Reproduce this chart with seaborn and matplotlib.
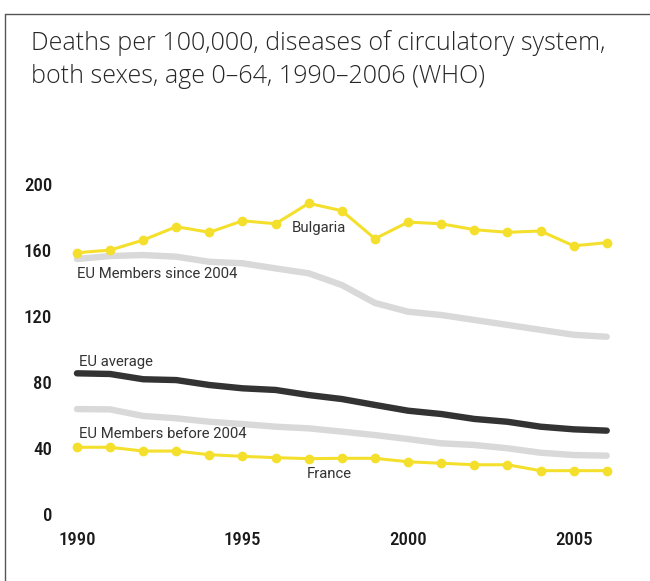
import numpy as np
import pandas as pd
import seaborn as sns
import matplotlib.pyplot as plt
from matplotlib.lines import Line2D

# values
years = list(range(1990, 2007))
bulgaria = [158.3, 159.9, 166.0, 174.1, 170.7, 177.7, 175.9, 188.3, 183.8,
            166.8, 176.9, 175.9, 172.3, 170.7, 171.5, 162.5, 164.4]
eu_since_2004 = [154.5, 156.3, 156.9, 155.9, 152.8, 151.9, 148.8, 145.8, 138.7,
                 127.8, 122.5, 120.5, 117.5, 114.5, 111.5, 108.5, 107.3]
eu_average = [85.1, 84.7, 81.5, 81.0, 78.0, 76.0, 75.0, 71.9, 69.5,
              65.9, 62.4, 60.4, 57.4, 55.7, 52.7, 51.1, 50.3]
eu_before_2004 = [63.4, 63.2, 59.2, 57.8, 55.7, 54.3, 52.7, 51.7, 49.7,
                  47.6, 45.2, 42.6, 41.6, 39.6, 36.9, 35.5, 35.1]
france = [40.2, 40.2, 37.9, 37.9, 35.7, 34.7, 33.9, 33.3, 33.5,
          33.5, 31.4, 30.5, 29.6, 29.6, 26.0, 26.0, 26.0]
y_ticks = [0, 40, 80, 120, 160, 200]
x_ticks = [1990, 1995, 2000, 2005]

yellow = "#f4e02c"
grey = "#d9d9d9"
dark = "#333333"
tick_font = ["Roboto Condensed", "DejaVu Sans"]
label_font = ["Roboto", "DejaVu Sans"]

sns.set_style("white")
plt.rcParams["font.family"] = ["DejaVu Sans"]

fig = plt.figure(figsize=(6.5, 5.81), dpi=100)
ax = fig.add_axes([0.0929, 0.1020, 0.866, 0.5954])

df = pd.DataFrame({"year": years, "bg": bulgaria, "new": eu_since_2004,
                   "avg": eu_average, "old": eu_before_2004, "fr": france})

sns.lineplot(data=df, x="year", y="new", color=grey, linewidth=4.6, ax=ax)
sns.lineplot(data=df, x="year", y="old", color=grey, linewidth=4.6, ax=ax)
sns.lineplot(data=df, x="year", y="avg", color=dark, linewidth=4.6, ax=ax)
sns.lineplot(data=df, x="year", y="bg", color=yellow, linewidth=2.2,
             marker="o", markersize=7, markeredgewidth=0, ax=ax)
sns.lineplot(data=df, x="year", y="fr", color=yellow, linewidth=2.2,
             marker="o", markersize=7, markeredgewidth=0, ax=ax)

ax.set_xlim(1989.5, 2006.5)
ax.set_ylim(-5, 205)
ax.set_xticks(x_ticks)
ax.set_yticks(y_ticks)
ax.set_xlabel("")
ax.set_ylabel("")
for s in ax.spines.values():
    s.set_visible(False)
ax.tick_params(length=0, labelsize=13.5, colors="#1a1a1a")
ax.tick_params(axis="y", pad=6)
ax.tick_params(axis="x", pad=7)
for lab in ax.get_xticklabels() + ax.get_yticklabels():
    lab.set_family(tick_font)
    lab.set_fontstretch("condensed")
    lab.set_fontweight("medium")

# series labels
kw = dict(fontsize=10.7, color=dark, family=label_font,
          va="center", ha="left")
ax.text(1996.5, 173.3, "Bulgaria", **kw)
ax.text(1990.0, 145.4, "EU Members since 2004", **kw)
ax.text(1990.05, 92.0, "EU average", **kw)
ax.text(1990.05, 48.2, "EU Members before 2004", **kw)
ax.text(1996.95, 24.0, "France", **kw)

fig.text(0.048, 0.948, "Deaths per 100,000, diseases of circulatory system,\n"
         "both sexes, age 0\u201364, 1990\u20132006 (WHO)",
         fontsize=18, color="#262626", family=["Open Sans", "DejaVu Sans"],
         fontweight="light", va="top", ha="left", linespacing=1.4)

# frame lines on the left and top
fig.add_artist(Line2D([0.008, 0.008], [0, 0.976], color="#555555", lw=1))
fig.add_artist(Line2D([0.008, 1.0], [0.976, 0.976], color="#555555", lw=1))

fig.savefig("out.png", dpi=100)
